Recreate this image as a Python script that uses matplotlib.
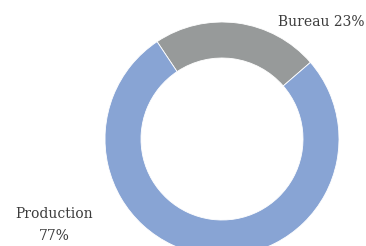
import matplotlib
matplotlib.use("Agg")
import matplotlib.pyplot as plt

labels = ["Bureau", "Production"]
values = [23, 77]
colors = ["#979a9a", "#88a4d4"]

W, H = 366, 246
fig = plt.figure(figsize=(W / 100, H / 100), dpi=100)
ax = fig.add_axes([0, 0, 1, 1])

cx, cy, r = 222, H - 139, 117
ax.pie(values, colors=colors, startangle=40.9, counterclock=True,
       center=(cx, cy), radius=r, frame=True,
       wedgeprops=dict(width=36, edgecolor="white", linewidth=0.6))
ax.set_xlim(0, W)
ax.set_ylim(0, H)
ax.set_aspect("equal")
ax.axis("off")

font = dict(family="DejaVu Serif", color="#3c3c3c", fontsize=10)
ax.text(365, H - 22, f"{labels[0]} {values[0]}%", ha="right", va="center", **font)
ax.text(54, H - 214, labels[1], ha="center", va="center", **font)
ax.text(54, H - 236, f"{values[1]}%", ha="center", va="center", **font)

fig.savefig("out.png", dpi=100)
